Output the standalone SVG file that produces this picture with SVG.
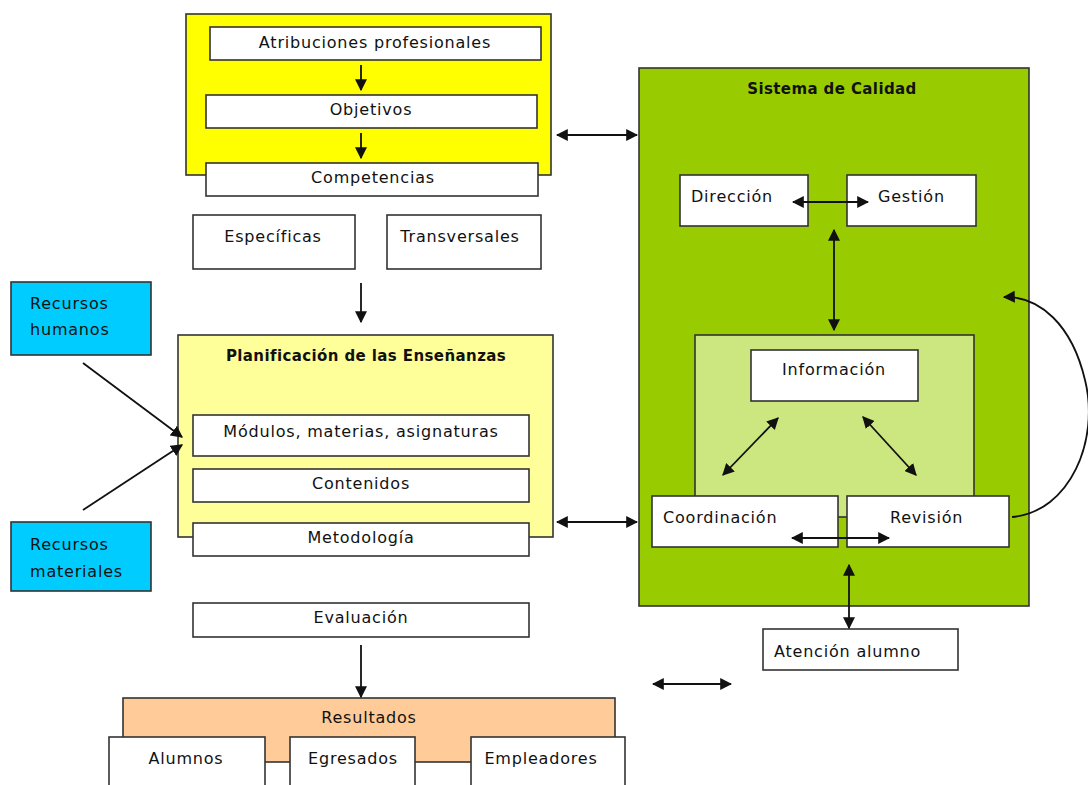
<svg xmlns="http://www.w3.org/2000/svg" width="1088" height="785" viewBox="0 0 1088 785">
<style>
rect{stroke:#333;stroke-width:1.6}
.w{fill:#fff}
text{font-family:"DejaVu Sans",Verdana,sans-serif;font-size:16px;fill:#111;letter-spacing:0.8px}
.c{text-anchor:middle}
.b{font-weight:bold;font-size:15px;letter-spacing:0.4px}
.ln{stroke:#111;stroke-width:1.8;fill:none}
</style>
<defs>
<marker id="ahb" viewBox="0 0 10 10" refX="9" refY="5" markerWidth="12" markerHeight="12" orient="auto-start-reverse" markerUnits="userSpaceOnUse"><path d="M0,0 L10,5 L0,10 Z" fill="#111"/></marker>
</defs>
<rect width="1088" height="785" fill="#fff" style="stroke:none"/>

<g id="bloque-objetivos">
<rect x="186" y="14" width="365" height="161" fill="#ffff00"/>
</g>
<g id="atribuciones"><rect class="w" x="210" y="27" width="331" height="33"/><text class="c" x="375" y="48">Atribuciones profesionales</text></g>
<g id="objetivos"><rect class="w" x="206" y="95" width="331" height="33"/><text class="c" x="371" y="115">Objetivos</text></g>
<g id="competencias"><rect class="w" x="206" y="163" width="332" height="33"/><text class="c" x="373" y="183">Competencias</text></g>
<g id="especificas"><rect class="w" x="193" y="215" width="162" height="54"/><text class="c" x="273" y="242">Específicas</text></g>
<g id="transversales"><rect class="w" x="387" y="215" width="154" height="54"/><text class="c" x="460" y="242">Transversales</text></g>

<g id="planificacion"><rect x="178" y="335" width="375" height="202" fill="#ffff99"/><text class="c b" x="366" y="361">Planificación de las Enseñanzas</text></g>
<g id="modulos"><rect class="w" x="193" y="415" width="336" height="41"/><text class="c" x="361" y="437">Módulos, materias, asignaturas</text></g>
<g id="contenidos"><rect class="w" x="193" y="469" width="336" height="33"/><text class="c" x="361" y="489">Contenidos</text></g>
<g id="metodologia"><rect class="w" x="193" y="523" width="336" height="33"/><text class="c" x="361" y="543">Metodología</text></g>

<g id="recursos-humanos"><rect x="11" y="282" width="140" height="73" fill="#00ccff"/><text x="30" y="309">Recursos</text><text x="30" y="335">humanos</text></g>
<g id="recursos-materiales"><rect x="11" y="522" width="140" height="69" fill="#00ccff"/><text x="30" y="550">Recursos</text><text x="30" y="577">materiales</text></g>

<g id="evaluacion"><rect class="w" x="193" y="603" width="336" height="34"/><text class="c" x="361" y="623">Evaluación</text></g>
<g id="resultados"><rect x="123" y="698" width="492" height="64" fill="#ffcc99"/><text class="c" x="369" y="723">Resultados</text></g>
<g id="alumnos"><rect class="w" x="109" y="737" width="156" height="60"/><text class="c" x="186" y="764">Alumnos</text></g>
<g id="egresados"><rect class="w" x="290" y="737" width="125" height="60"/><text class="c" x="353" y="764">Egresados</text></g>
<g id="empleadores"><rect class="w" x="471" y="737" width="154" height="60"/><text class="c" x="541" y="764">Empleadores</text></g>

<g id="sistema-calidad"><rect x="639" y="68" width="390" height="538" fill="#99cc00"/><text class="c b" x="832" y="94">Sistema de Calidad</text></g>
<g id="direccion"><rect class="w" x="680" y="175" width="128" height="51"/><text x="691" y="202">Dirección</text></g>
<g id="gestion"><rect class="w" x="847" y="175" width="129" height="51"/><text x="878" y="202">Gestión</text></g>
<g id="ciclo"><rect x="695" y="335" width="279" height="182" fill="#cce680"/></g>
<g id="informacion"><rect class="w" x="751" y="350" width="167" height="51"/><text class="c" x="834" y="375">Información</text></g>
<g id="coordinacion"><rect class="w" x="652" y="496" width="186" height="51"/><text x="663" y="523">Coordinación</text></g>
<g id="revision"><rect class="w" x="847" y="496" width="162" height="51"/><text x="890" y="523">Revisión</text></g>
<g id="atencion-alumno"><rect class="w" x="763" y="629" width="195" height="41"/><text x="774" y="657">Atención alumno</text></g>

<g id="conectores">
<line class="ln" x1="361" y1="65" x2="361" y2="90" marker-end="url(#ahb)"/>
<line class="ln" x1="361" y1="133" x2="361" y2="158" marker-end="url(#ahb)"/>
<line class="ln" x1="361" y1="283" x2="361" y2="322" marker-end="url(#ahb)"/>
<line class="ln" x1="83" y1="363" x2="182" y2="437" marker-end="url(#ahb)"/>
<line class="ln" x1="83" y1="510" x2="182" y2="445" marker-end="url(#ahb)"/>
<line class="ln" x1="361" y1="645" x2="361" y2="697" marker-end="url(#ahb)"/>
<line class="ln" x1="557" y1="135" x2="637" y2="135" marker-start="url(#ahb)" marker-end="url(#ahb)"/>
<line class="ln" x1="557" y1="522" x2="637" y2="522" marker-start="url(#ahb)" marker-end="url(#ahb)"/>
<line class="ln" x1="793" y1="202" x2="868" y2="202" marker-start="url(#ahb)" marker-end="url(#ahb)"/>
<line class="ln" x1="834" y1="230" x2="834" y2="330" marker-start="url(#ahb)" marker-end="url(#ahb)"/>
<line class="ln" x1="778" y1="418" x2="723" y2="475" marker-start="url(#ahb)" marker-end="url(#ahb)"/>
<line class="ln" x1="863" y1="417" x2="916" y2="475" marker-start="url(#ahb)" marker-end="url(#ahb)"/>
<line class="ln" x1="792" y1="538" x2="889" y2="538" marker-start="url(#ahb)" marker-end="url(#ahb)"/>
<line class="ln" x1="849" y1="565" x2="849" y2="628" marker-start="url(#ahb)" marker-end="url(#ahb)"/>
<line class="ln" x1="653" y1="684" x2="731" y2="684" marker-start="url(#ahb)" marker-end="url(#ahb)"/>
<path class="ln" d="M1012,517 C1070,512 1100,440 1085,380 C1072,325 1040,296 1004,297" marker-end="url(#ahb)"/>
</g>
</svg>
